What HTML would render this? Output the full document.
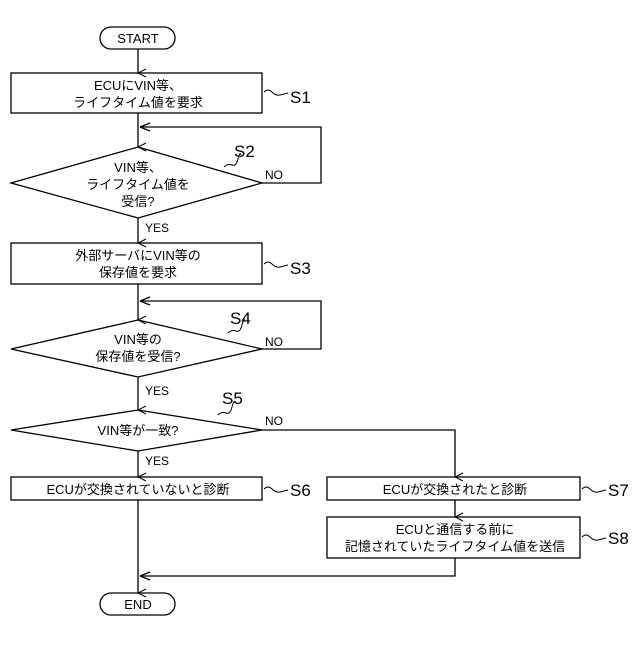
<!DOCTYPE html>
<html><head><meta charset="utf-8"><style>
body{margin:0;background:#fff}
svg text{font-family:"Liberation Sans","Noto Sans CJK JP",sans-serif;fill:#000}
</style></head><body>
<svg width="640" height="640" viewBox="0 0 640 640" xmlns="http://www.w3.org/2000/svg">
<defs><marker id="a" markerWidth="10" markerHeight="10" refX="5" refY="9" orient="auto" markerUnits="userSpaceOnUse">
<path d="M1,1 L5,9 L9,1" fill="none" stroke="#000" stroke-width="1"/></marker>
<marker id="l" markerWidth="10" markerHeight="10" refX="1" refY="5" orient="auto-start-reverse" markerUnits="userSpaceOnUse">
<path d="M9,1 L1,5 L9,9" fill="none" stroke="#000" stroke-width="1"/></marker></defs>
<g fill="none" stroke="#000" stroke-width="1.3">
<rect x="100" y="27" width="75" height="22" rx="11"/>
<rect x="11" y="73" width="251" height="40"/>
<polygon points="138,147 262,183 138,218 11,183"/>
<rect x="11" y="243" width="251" height="41"/>
<polygon points="138,320 262,349 138,377 11,349"/>
<polygon points="138,410 262,430 138,451 11,430"/>
<rect x="11" y="477" width="251" height="23"/>
<rect x="327" y="477" width="253" height="23"/>
<rect x="327" y="517" width="253" height="41"/>
<rect x="100" y="593" width="75" height="22" rx="11"/>
<line x1="138" y1="49" x2="138" y2="73" marker-end="url(#a)"/>
<line x1="138" y1="113" x2="138" y2="147" marker-end="url(#a)"/>
<polyline points="262,183 321,183 321,127 140,127"/>
<line x1="150" y1="123" x2="140" y2="127"/><line x1="150" y1="131" x2="140" y2="127"/>
<line x1="138" y1="218" x2="138" y2="243" marker-end="url(#a)"/>
<line x1="138" y1="284" x2="138" y2="320" marker-end="url(#a)"/>
<polyline points="262,349 321,349 321,301 140,301"/>
<line x1="150" y1="297" x2="140" y2="301"/><line x1="150" y1="305" x2="140" y2="301"/>
<line x1="138" y1="377" x2="138" y2="410" marker-end="url(#a)"/>
<line x1="138" y1="451" x2="138" y2="477" marker-end="url(#a)"/>
<polyline points="262,430 455,430 455,477" marker-end="url(#a)"/>
<line x1="455" y1="500" x2="455" y2="517" marker-end="url(#a)"/>
<line x1="138" y1="500" x2="138" y2="593" marker-end="url(#a)"/>
<polyline points="455,558 455,576 140,576"/>
<line x1="150" y1="572" x2="140" y2="576"/><line x1="150" y1="580" x2="140" y2="576"/>
<g stroke-width="1">
<path d="M264,92 q4,-4 8,0 t8,3 t8,-2"/>
<path d="M224,167 q4,-4 8,-2 t6,-6 t3,-4"/>
<path d="M264,264 q4,-4 8,0 t8,3 t8,-2"/>
<path d="M228,333 q4,-4 8,-2 t6,-6 t3,-4"/>
<path d="M218,415 q4,-4 8,-2 t6,-6 t3,-4"/>
<path d="M264,489 q4,-4 8,0 t8,3 t8,-2"/>
<path d="M582,489 q4,-4 8,0 t8,3 t8,-2"/>
<path d="M582,537 q4,-4 8,0 t8,3 t8,-2"/>
</g></g>
<g font-size="13" text-anchor="middle">
<text x="138" y="43">START</text>
<text x="138" y="90">ECUにVIN等、</text>
<text x="138" y="107">ライフタイム値を要求</text>
<text x="138" y="172">VIN等、</text>
<text x="138" y="189">ライフタイム値を</text>
<text x="138" y="206">受信?</text>
<text x="138" y="260">外部サーバにVIN等の</text>
<text x="138" y="277">保存値を要求</text>
<text x="138" y="344">VIN等の</text>
<text x="138" y="361">保存値を受信?</text>
<text x="138" y="435">VIN等が一致?</text>
<text x="138" y="494">ECUが交換されていないと診断</text>
<text x="455" y="494">ECUが交換されたと診断</text>
<text x="455" y="534">ECUと通信する前に</text>
<text x="455" y="551">記憶されていたライフタイム値を送信</text>
<text x="138" y="609">END</text>
</g>
<g font-size="12">
<text x="265" y="179">NO</text><text x="145" y="232">YES</text>
<text x="265" y="346">NO</text><text x="145" y="395">YES</text>
<text x="265" y="425">NO</text><text x="145" y="465">YES</text>
</g>
<g font-size="17">
<text x="290" y="103">S1</text><text x="234" y="157">S2</text>
<text x="290" y="274">S3</text><text x="230" y="324">S4</text>
<text x="222" y="404">S5</text><text x="290" y="496">S6</text>
<text x="608" y="496">S7</text><text x="608" y="544">S8</text>
</g>
</svg>
</body></html>
